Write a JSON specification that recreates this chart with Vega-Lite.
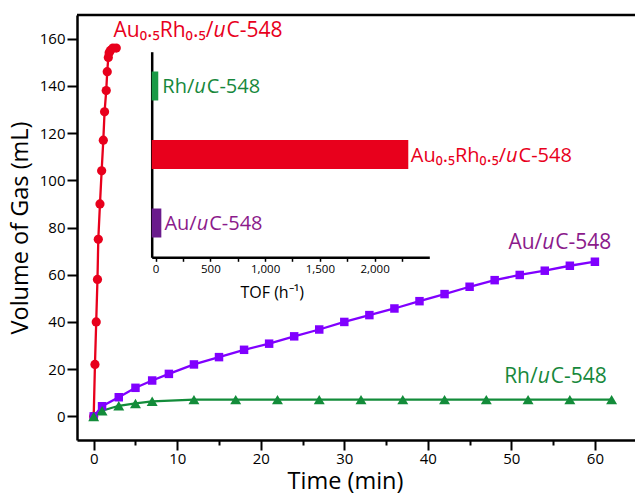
{
  "$schema": "https://vega.github.io/schema/vega-lite/v6.json",
  "width": 558,
  "height": 425,
  "autosize": {"type": "none"},
  "padding": {"left": 77, "top": 15, "right": 0, "bottom": 54},
  "background": "white",
  "config": {
    "font": "Open Sans",
    "view": {"stroke": null},
    "axis": {"grid": false, "domainColor": "black", "tickColor": "black", "labelColor": "black", "titleColor": "black", "titleFontWeight": "normal"}
  },
  "datasets": {
    "curves": [
      {"series": "AuRh", "t": 0, "v": 0},
      {"series": "AuRh", "t": 0.15, "v": 22},
      {"series": "AuRh", "t": 0.3, "v": 40},
      {"series": "AuRh", "t": 0.45, "v": 58},
      {"series": "AuRh", "t": 0.55, "v": 75},
      {"series": "AuRh", "t": 0.75, "v": 90},
      {"series": "AuRh", "t": 0.95, "v": 104},
      {"series": "AuRh", "t": 1.15, "v": 117},
      {"series": "AuRh", "t": 1.3, "v": 129},
      {"series": "AuRh", "t": 1.5, "v": 138},
      {"series": "AuRh", "t": 1.62, "v": 146},
      {"series": "AuRh", "t": 1.75, "v": 152},
      {"series": "AuRh", "t": 1.85, "v": 154},
      {"series": "AuRh", "t": 2.0, "v": 155},
      {"series": "AuRh", "t": 2.3, "v": 156},
      {"series": "AuRh", "t": 2.7, "v": 156},
      {"series": "Au", "t": 0, "v": 0},
      {"series": "Au", "t": 1, "v": 4.3},
      {"series": "Au", "t": 3, "v": 8.1},
      {"series": "Au", "t": 5, "v": 12.1},
      {"series": "Au", "t": 7, "v": 15.2},
      {"series": "Au", "t": 9, "v": 18},
      {"series": "Au", "t": 12, "v": 22},
      {"series": "Au", "t": 15, "v": 25.1},
      {"series": "Au", "t": 18, "v": 28.2},
      {"series": "Au", "t": 21, "v": 30.8},
      {"series": "Au", "t": 24, "v": 33.9},
      {"series": "Au", "t": 27, "v": 36.8},
      {"series": "Au", "t": 30, "v": 40},
      {"series": "Au", "t": 33, "v": 42.9},
      {"series": "Au", "t": 36, "v": 45.7},
      {"series": "Au", "t": 39, "v": 48.8},
      {"series": "Au", "t": 42, "v": 51.8},
      {"series": "Au", "t": 45, "v": 54.9},
      {"series": "Au", "t": 48, "v": 57.7},
      {"series": "Au", "t": 51, "v": 59.9},
      {"series": "Au", "t": 54, "v": 61.7},
      {"series": "Au", "t": 57, "v": 63.8},
      {"series": "Au", "t": 60, "v": 65.5},
      {"series": "Rh", "t": 0, "v": 0},
      {"series": "Rh", "t": 1, "v": 2.4},
      {"series": "Rh", "t": 3, "v": 4.5},
      {"series": "Rh", "t": 5, "v": 5.5},
      {"series": "Rh", "t": 7, "v": 6.4},
      {"series": "Rh", "t": 12, "v": 7.1},
      {"series": "Rh", "t": 17, "v": 7.1},
      {"series": "Rh", "t": 22, "v": 7.1},
      {"series": "Rh", "t": 27, "v": 7.1},
      {"series": "Rh", "t": 32, "v": 7.1},
      {"series": "Rh", "t": 37, "v": 7.1},
      {"series": "Rh", "t": 42, "v": 7.1},
      {"series": "Rh", "t": 47, "v": 7.1},
      {"series": "Rh", "t": 52, "v": 7.1},
      {"series": "Rh", "t": 57, "v": 7.1},
      {"series": "Rh", "t": 62, "v": 7.1}
    ],
    "mainLabels": [
      {"series": "AuRh", "prefix": "Au₀.₅Rh₀.₅/", "t": 14.33, "v": 160.8},
      {"series": "Au", "prefix": "Au/", "t": 53.7, "v": 70.8},
      {"series": "Rh", "prefix": "Rh/", "t": 53.15, "v": 14.0}
    ],
    "tof": [
      {"cat": "Rh", "tof": 24},
      {"cat": "AuRh", "tof": 2308},
      {"cat": "Au", "tof": 52}
    ],
    "insetLabels": [
      {"series": "Rh", "prefix": "Rh/", "tof": 353},
      {"series": "AuRh", "prefix": "Au₀.₅Rh₀.₅/", "tof": 3201},
      {"series": "Au", "prefix": "Au/", "tof": 375}
    ]
  },
  "layer": [
    {
      "layer": [
        {
          "data": {"name": "curves"},
          "mark": {"type": "line", "strokeWidth": 2.3},
          "encoding": {
            "x": {
              "field": "t", "type": "quantitative",
              "scale": {"domain": [-2, 64.8], "nice": false, "zero": false},
              "axis": {
                "orient": "bottom",
                "values": [0, 5, 10, 15, 20, 25, 30, 35, 40, 45, 50, 55, 60],
                "labelExpr": "datum.value % 10 === 0 ? datum.label : ''",
                "tickSize": {"condition": {"test": "datum.value % 10 !== 0", "value": 5}, "value": 10},
                "tickWidth": 2,
                "domainWidth": 2.5,
                "labelFontSize": 15,
                "labelPadding": 1,
                "title": "Time (min)",
                "titleFontSize": 23.5,
                "titleX": 268,
                "titleY": 29,
                "titleBaseline": "top"
              }
            },
            "y": {
              "field": "v", "type": "quantitative",
              "scale": {"domain": [-10, 170], "nice": false, "zero": false},
              "axis": {
                "orient": "left",
                "values": [0, 10, 20, 30, 40, 50, 60, 70, 80, 90, 100, 110, 120, 130, 140, 150, 160],
                "labelExpr": "datum.value % 20 === 0 ? datum.label : ''",
                "tickSize": {"condition": {"test": "datum.value % 20 !== 0", "value": 5}, "value": 10},
                "tickWidth": 2,
                "domainWidth": 2.5,
                "labelFontSize": 15,
                "labelPadding": 2,
                "title": "Volume of Gas (mL)",
                "titleFontSize": 23.5,
                "titleX": -45,
                "titleBaseline": "bottom"
              }
            },
            "color": {
              "field": "series", "type": "nominal",
              "scale": {"domain": ["AuRh", "Au", "Rh"], "range": ["#e8001c", "#8000ff", "#138c3a"]},
              "legend": null
            }
          }
        },
        {
          "data": {"name": "curves"},
          "transform": [{"filter": "datum.series === 'AuRh'"}],
          "mark": {"type": "point", "shape": "circle", "filled": true, "opacity": 1, "size": 85},
          "encoding": {
            "x": {"field": "t", "type": "quantitative"},
            "y": {"field": "v", "type": "quantitative"},
            "color": {"field": "series", "type": "nominal", "legend": null}
          }
        },
        {
          "data": {"name": "curves"},
          "transform": [{"filter": "datum.series === 'Au'"}],
          "mark": {"type": "point", "shape": "square", "filled": true, "opacity": 1, "size": 72},
          "encoding": {
            "x": {"field": "t", "type": "quantitative"},
            "y": {"field": "v", "type": "quantitative"},
            "color": {"field": "series", "type": "nominal", "legend": null}
          }
        },
        {
          "data": {"name": "curves"},
          "transform": [{"filter": "datum.series === 'Rh'"}],
          "mark": {"type": "point", "shape": "triangle-up", "filled": true, "opacity": 1, "size": 120},
          "encoding": {
            "x": {"field": "t", "type": "quantitative"},
            "y": {"field": "v", "type": "quantitative"},
            "color": {"field": "series", "type": "nominal", "legend": null}
          }
        },
        {
          "data": {"values": [{}]},
          "mark": {"type": "rule", "strokeWidth": 2.5, "color": "black"},
          "encoding": {"y": {"datum": 170}}
        },
        {
          "data": {"name": "mainLabels"},
          "mark": {"type": "text", "align": "right", "baseline": "alphabetic", "fontSize": 21},
          "encoding": {
            "x": {"field": "t", "type": "quantitative"},
            "y": {"field": "v", "type": "quantitative"},
            "text": {"field": "prefix"},
            "fill": {
              "field": "series", "type": "nominal",
              "scale": {"domain": ["AuRh", "Au", "Rh"], "range": ["#e8001c", "#8b1a8b", "#17883c"]},
              "legend": null
            }
          }
        },
        {
          "data": {"name": "mainLabels"},
          "mark": {"type": "text", "align": "left", "baseline": "alphabetic", "fontSize": 21, "fontStyle": "italic"},
          "encoding": {
            "x": {"field": "t", "type": "quantitative"},
            "y": {"field": "v", "type": "quantitative"},
            "text": {"value": "u"},
            "fill": {"field": "series", "type": "nominal", "legend": null}
          }
        },
        {
          "data": {"name": "mainLabels"},
          "mark": {"type": "text", "align": "left", "baseline": "alphabetic", "fontSize": 21, "dx": 13},
          "encoding": {
            "x": {"field": "t", "type": "quantitative"},
            "y": {"field": "v", "type": "quantitative"},
            "text": {"value": "C-548"},
            "fill": {"field": "series", "type": "nominal", "legend": null}
          }
        }
      ]
    },
    {
      "layer": [
        {
          "data": {"name": "tof"},
          "mark": {"type": "bar"},
          "encoding": {
            "y": {
              "field": "cat", "type": "nominal",
              "scale": {"domain": ["Rh", "AuRh", "Au"], "range": [36.7, 242.3], "paddingInner": 0.577, "paddingOuter": 0.289},
              "axis": {"orient": "left", "offset": -74.7, "labels": false, "ticks": false, "title": null, "domainWidth": 2.5}
            },
            "x": {
              "field": "tof", "type": "quantitative",
              "scale": {"domain": [-36, 2500], "range": [74.7, 352.3], "nice": false, "zero": false},
              "axis": {
                "orient": "bottom",
                "offset": -182.7,
                "values": [0, 250, 500, 750, 1000, 1250, 1500, 1750, 2000, 2250],
                "format": ",.0f",
                "labelExpr": "datum.value % 500 === 0 ? datum.label : ''",
                "tickSize": 4,
                "tickWidth": 1.5,
                "domainWidth": 2.5,
                "labelFontSize": 11.5,
                "labelPadding": 2,
                "title": "TOF (h⁻¹)",
                "titleFontSize": 16,
                "titleX": 194.7,
                "titleY": 27,
                "titleBaseline": "top"
              }
            },
            "x2": {"datum": -36},
            "color": {
              "field": "cat", "type": "nominal",
              "scale": {"domain": ["AuRh", "Au", "Rh"], "range": ["#e8001c", "#6a1b8c", "#1a9a46"]},
              "legend": null
            }
          }
        },
        {
          "data": {"name": "insetLabels"},
          "mark": {"type": "text", "align": "right", "baseline": "alphabetic", "fontSize": 20, "dy": 7},
          "encoding": {
            "x": {"field": "tof", "type": "quantitative"},
            "y": {"field": "series", "type": "nominal"},
            "text": {"field": "prefix"},
            "fill": {"field": "series", "type": "nominal", "legend": null}
          }
        },
        {
          "data": {"name": "insetLabels"},
          "mark": {"type": "text", "align": "left", "baseline": "alphabetic", "fontSize": 20, "dy": 7, "fontStyle": "italic"},
          "encoding": {
            "x": {"field": "tof", "type": "quantitative"},
            "y": {"field": "series", "type": "nominal"},
            "text": {"value": "u"},
            "fill": {"field": "series", "type": "nominal", "legend": null}
          }
        },
        {
          "data": {"name": "insetLabels"},
          "mark": {"type": "text", "align": "left", "baseline": "alphabetic", "fontSize": 20, "dy": 7, "dx": 12.5},
          "encoding": {
            "x": {"field": "tof", "type": "quantitative"},
            "y": {"field": "series", "type": "nominal"},
            "text": {"value": "C-548"},
            "fill": {"field": "series", "type": "nominal", "legend": null}
          }
        }
      ]
    }
  ],
  "resolve": {"scale": {"x": "independent", "y": "independent", "color": "independent"}, "axis": {"x": "independent", "y": "independent"}}
}
